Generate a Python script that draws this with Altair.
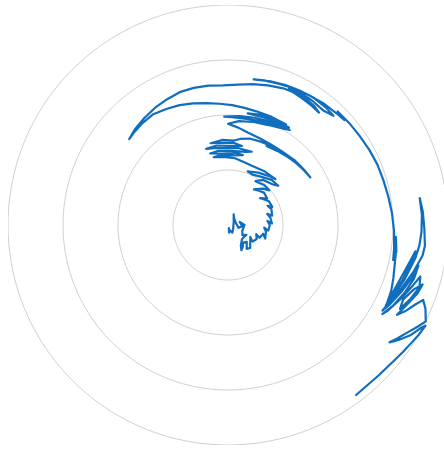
import altair as alt
import numpy as np
import pandas as pd

# Polar random walk, as (angle in degrees clockwise from north, radius in ring units)
walk_inner = [
    (165, 0.06), (172, 0.14), (160, 0.10), (150, 0.16), (130, 0.12), (100, 0.10), (60, 0.12),
    (35, 0.18), (28, 0.22), (45, 0.16), (80, 0.15), (105, 0.20), (95, 0.26), (75, 0.22),
    (90, 0.30), (112, 0.28), (125, 0.32), (118, 0.38), (135, 0.36), (148, 0.44), (152, 0.52),
    (146, 0.48), (140, 0.42), (132, 0.46), (142, 0.55), (136, 0.58), (126, 0.50), (118, 0.46),
    (124, 0.54), (116, 0.58), (108, 0.54), (112, 0.62), (104, 0.66), (110, 0.72), (100, 0.70),
    (94, 0.66), (98, 0.74), (90, 0.76), (84, 0.72), (88, 0.80), (80, 0.78), (74, 0.74),
    (78, 0.82), (70, 0.84), (64, 0.80), (68, 0.87), (60, 0.86), (54, 0.80), (50, 0.76),
    (56, 0.86), (48, 0.88), (42, 0.84), (36, 0.80), (44, 0.92), (50, 0.98), (42, 0.98),
    (32, 0.94), (38, 1.04), (48, 1.10), (52, 1.16), (44, 1.14), (34, 1.06), (26, 1.02),
    (20, 1.04), (30, 1.10), (40, 1.16), (46, 1.20), (34, 1.18), (22, 1.16), (14, 1.18), (6, 1.22),
]

walk_ring2 = [
    (-4, 1.24), (-12, 1.26), (-6, 1.28), (4, 1.27), (12, 1.30), (6, 1.32), (-4, 1.30),
    (-14, 1.34), (-8, 1.36), (2, 1.35), (14, 1.37), (18, 1.40), (8, 1.41), (-2, 1.40),
    (-10, 1.42), (-16, 1.44), (-8, 1.46), (0, 1.44), (10, 1.46), (4, 1.50), (-6, 1.50),
    (-12, 1.52), (-4, 1.55), (4, 1.54), (8, 1.58),
    (14, 1.62), (22, 1.63), (30, 1.64), (38, 1.66), (46, 1.69), (54, 1.71), (60, 1.73),
    (54, 1.70), (46, 1.67), (38, 1.64), (30, 1.61), (26, 1.60), (34, 1.62), (42, 1.65),
    (50, 1.69), (44, 1.68), (36, 1.66), (28, 1.66), (20, 1.68), (12, 1.72),
]

walk_ring3 = [
    (6, 1.78), (0, 1.84), (6, 1.90), (14, 1.93), (22, 1.96), (30, 2.02), (33, 2.06), (26, 2.01),
    (18, 1.98), (10, 1.96), (2, 1.96), (-2, 1.97), (6, 1.99), (14, 2.01), (22, 2.03), (28, 2.05),
    (32, 2.09), (26, 2.08), (18, 2.06), (10, 2.06), (16, 2.09), (24, 2.10), (30, 2.11), (22, 2.12),
    (14, 2.13), (8, 2.15), (2, 2.18), (-4, 2.21), (-10, 2.25), (-16, 2.30), (-22, 2.35),
    (-28, 2.39), (-34, 2.43), (-40, 2.42), (-45, 2.40), (-49, 2.38),
]

walk_arc = [
    (-44, 2.43), (-38, 2.47), (-32, 2.51), (-26, 2.54), (-20, 2.57), (-14, 2.57), (-8, 2.56),
    (-2, 2.54), (4, 2.56), (10, 2.60), (16, 2.64), (22, 2.68), (26, 2.69), (30, 2.67), (35, 2.65),
    (39, 2.63), (36, 2.67), (30, 2.71), (24, 2.72), (28, 2.74), (34, 2.73), (40, 2.71), (44, 2.76),
    (40, 2.78), (34, 2.79), (28, 2.77), (22, 2.75), (16, 2.72), (10, 2.69), (14, 2.71), (20, 2.73),
    (26, 2.76), (32, 2.78), (38, 2.81), (44, 2.83), (48, 2.85), (44, 2.87), (50, 2.88), (56, 2.89),
    (62, 2.91), (68, 2.93), (74, 2.94), (80, 2.96), (86, 2.99), (92, 3.02), (98, 3.05), (102, 3.07),
    (99, 3.10), (94, 3.06), (98, 3.09), (104, 3.12),
]

walk_outer = [
    (108, 3.16), (112, 3.20), (116, 3.22), (112, 3.24), (106, 3.30), (101, 3.38), (98, 3.44),
    (102, 3.40), (108, 3.32), (114, 3.24), (117, 3.22), (113, 3.28), (107, 3.36), (100, 3.46),
    (96, 3.50), (92, 3.52), (87, 3.53), (82, 3.52), (86, 3.55), (91, 3.57), (96, 3.60), (99, 3.58),
    (104, 3.48), (110, 3.36), (115, 3.26), (119, 3.21), (116, 3.28), (111, 3.38), (106, 3.48),
    (102, 3.54), (106, 3.52), (111, 3.44), (116, 3.34), (120, 3.24), (118, 3.30), (113, 3.42),
    (108, 3.54), (105, 3.62), (108, 3.66), (112, 3.58), (116, 3.48), (113, 3.46), (109, 3.58),
    (107, 3.70), (110, 3.66), (114, 3.56), (118, 3.48), (116, 3.58), (113, 3.70), (111, 3.80),
    (113, 3.90), (116, 4.00), (118, 3.92), (121, 3.80), (124, 3.70), (126, 3.63), (124, 3.74),
    (121, 3.88), (118, 3.98), (117, 4.03), (120, 4.00), (123, 3.96), (126, 3.93), (129, 3.90),
    (132, 3.88), (135, 3.87), (139, 3.86), (143, 3.87),
]

ring_levels = [1, 2, 3, 4]

points = walk_inner + walk_ring2 + walk_ring3 + walk_arc + walk_outer
walk = pd.DataFrame({
    "step": list(range(len(points))),
    "theta": [p[0] for p in points],
    "r": [p[1] for p in points],
})

ring_angles = np.arange(0, 361, 2)
rings = pd.DataFrame([{"ring": lv, "a": float(a)} for lv in ring_levels for a in ring_angles])

xs = alt.Scale(domain=[-4, 3.927], nice=False, zero=False)
ys = alt.Scale(domain=[-4, 4], nice=False, zero=False)

grid = alt.Chart(rings).transform_calculate(
    x="datum.ring * sin(datum.a * PI / 180)",
    y="datum.ring * cos(datum.a * PI / 180)",
).mark_line(stroke="#d0d0d0", strokeWidth=1, clip=True).encode(
    x=alt.X("x:Q", scale=xs, axis=None),
    y=alt.Y("y:Q", scale=ys, axis=None),
    detail="ring:N",
    order="a:Q",
)

line = alt.Chart(walk).transform_calculate(
    x="datum.r * sin(datum.theta * PI / 180)",
    y="datum.r * cos(datum.theta * PI / 180)",
).mark_line(color="#106ebe", strokeWidth=2.2, clip=True, strokeJoin="round", strokeCap="round").encode(
    x=alt.X("x:Q", scale=xs, axis=None),
    y=alt.Y("y:Q", scale=ys, axis=None),
    order="step:Q",
)

chart = (grid + line).properties(
    width=436, height=440,
    padding={"left": 8, "top": 5, "right": 0, "bottom": 6},
).configure_view(stroke=None)

chart.save("out.html", embed_options={"renderer": "svg", "actions": False})
